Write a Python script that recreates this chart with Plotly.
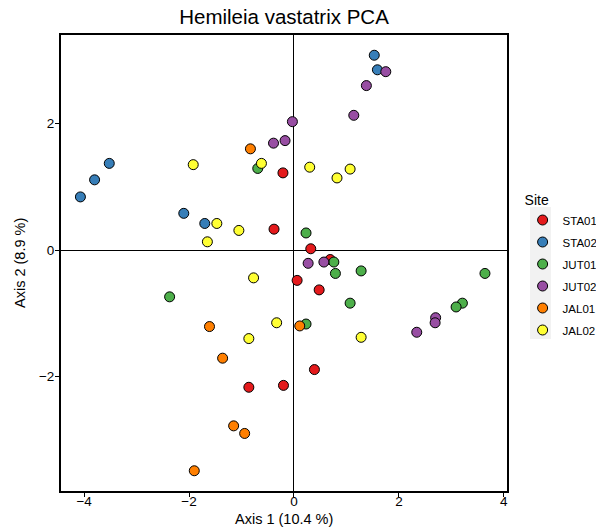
import plotly.graph_objects as go

# PCA scores per site (Axis 1, Axis 2)
sites = ["STA01", "STA02", "JUT01", "JUT02", "JAL01", "JAL02"]
colors = ["#E41A1C", "#377EB8", "#4DAF4A", "#984EA3", "#FF7F00", "#FFFF33"]

sta01_x = [-0.21, -0.38, 0.32, 0.06, 0.48, 0.39, -0.86, -0.20, 0.69]
sta01_y = [1.22, 0.33, 0.02, -0.48, -0.63, -1.89, -2.17, -2.14, -0.15]

sta02_x = [-4.07, -3.80, -3.52, -2.10, -1.70, 1.53, 1.59]
sta02_y = [0.84, 1.11, 1.37, 0.58, 0.42, 3.08, 2.85]

jut01_x = [-0.69, 0.23, -2.37, 0.76, 0.79, 1.28, 1.07, 3.64, 3.21, 3.09, 0.23]
jut01_y = [1.29, 0.27, -0.74, -0.19, -0.37, -0.33, -0.84, -0.37, -0.84, -0.90, -1.17]

jut02_x = [-0.03, -0.17, -0.39, 1.75, 1.38, 1.14, 0.27, 0.57, 2.70, 2.69, 2.34]
jut02_y = [2.03, 1.73, 1.69, 2.82, 2.60, 2.13, -0.21, -0.19, -1.07, -1.15, -1.30]

jal01_x = [-0.83, -1.61, -1.36, -1.15, -0.94, -1.90, 0.11]
jal01_y = [1.60, -1.21, -1.71, -2.78, -2.90, -3.49, -1.20]

jal02_x = [-1.92, -0.62, -1.47, -1.05, -1.65, 0.30, 1.07, 0.82, -0.77, -0.33, -0.86, 1.28]
jal02_y = [1.35, 1.37, 0.42, 0.31, 0.13, 1.31, 1.28, 1.14, -0.44, -1.15, -1.40, -1.38]

xs = [sta01_x, sta02_x, jut01_x, jut02_x, jal01_x, jal02_x]
ys = [sta01_y, sta02_y, jut01_y, jut02_y, jal01_y, jal02_y]

font_family = "Liberation Sans, Arial, sans-serif"

# plot area in pixels
L, R, T, B = 61, 89, 35, 36
W, H = 596, 527
pw, ph = W - L - R, H - T - B

fig = go.Figure()
for name, col, x, y in zip(sites, colors, xs, ys):
    fig.add_trace(go.Scatter(
        x=x, y=y, mode="markers", name=name, legendgroup=name,
        marker=dict(size=10, color=col, line=dict(color="black", width=1)),
    ))

axis_common = dict(
    showgrid=False,
    zeroline=True, zerolinecolor="black", zerolinewidth=1,
    showline=True, mirror=True, linecolor="black", linewidth=2,
    ticks="outside", ticklen=4, tickwidth=1, tickcolor="black",
    tickfont=dict(family=font_family, size=13.5, color="black"),
    dtick=2,
)

fig.update_layout(
    width=W, height=H,
    margin=dict(l=L, r=R, t=T, b=B, autoexpand=False),
    paper_bgcolor="white", plot_bgcolor="white",
    font=dict(family=font_family, color="black"),
    title=dict(text="Hemileia vastatrix PCA", x=(L + pw / 2) / W, xanchor="center",
               y=1 - 17 / H, yanchor="middle", font=dict(size=20.5, color="black")),
    xaxis=dict(axis_common, range=[-4.44, 4.06], ticklabelstandoff=-7),
    yaxis=dict(axis_common, range=[-3.81, 3.40], ticklabelstandoff=-2),
    legend=dict(
        title=dict(text="Site", font=dict(size=14)),
        x=1.035, xanchor="left", y=0.666, yanchor="top",
        bgcolor="rgba(0,0,0,0)", font=dict(size=11.5),
        itemsizing="trace", tracegroupgap=3,
    ),
    annotations=[
        dict(text="Axis 1 (10.4 %)", xref="paper", yref="paper",
             x=0.5, y=-(519 - (T + ph)) / ph, xanchor="center", yanchor="middle",
             showarrow=False, font=dict(size=14.5)),
        dict(text="Axis 2 (8.9 %)", xref="paper", yref="paper",
             x=-(L - 20) / pw, y=0.5, xanchor="center", yanchor="middle",
             textangle=-90, showarrow=False, font=dict(size=14.5)),
    ],
    shapes=[dict(type="rect", xref="paper", yref="paper",
                 x0=(530 - L) / pw, x1=(551 - L) / pw,
                 y0=(T + ph - 339) / ph, y1=(T + ph - 207) / ph,
                 fillcolor="#F2F2F2", line=dict(width=0), layer="below")],
)

fig.write_html("out.html")
